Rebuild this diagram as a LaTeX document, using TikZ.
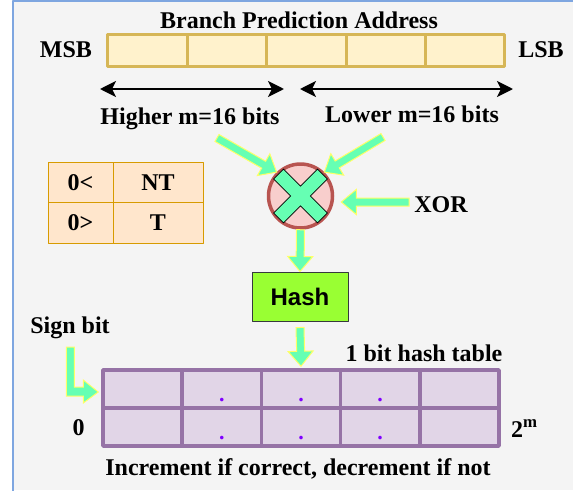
\documentclass[tikz,border=0pt]{standalone}
\usepackage{fontspec}
\setmainfont{Liberation Serif}
\setsansfont{Liberation Sans}
\usetikzlibrary{calc,arrows.meta}
\definecolor{bggray}{HTML}{F4F4F4}
\definecolor{frameblue}{HTML}{7EA6E0}
\definecolor{addrfill}{HTML}{FFF2CC}
\definecolor{addrline}{HTML}{D6B656}
\definecolor{signfill}{HTML}{FFE6CC}
\definecolor{signline}{HTML}{D79B00}
\definecolor{xorfill}{HTML}{F8CECC}
\definecolor{xorline}{HTML}{B85450}
\definecolor{fatgreen}{HTML}{66FFB3}
\definecolor{fatyellow}{HTML}{FFFF66}
\definecolor{hashfill}{HTML}{99FF33}
\definecolor{hashline}{HTML}{36393D}
\definecolor{tabfill}{HTML}{E1D5E7}
\definecolor{tabline}{HTML}{9673A6}
\definecolor{dotviolet}{HTML}{7F00FF}
\begin{document}
\begin{tikzpicture}[x=1pt,y=-1pt, line join=round,
    lbl/.style={font=\fontsize{24}{28}\selectfont\bfseries, inner sep=0pt},
    txt/.style={lbl, anchor=base},
    addrcell/.style={draw=addrline, fill=addrfill, line width=3pt, minimum width=79.4pt, minimum height=32pt, inner sep=0pt},
    signcell/.style={lbl, draw=signline, fill=signfill, line width=1pt, minimum height=40.5pt},
    tabcell/.style={draw=tabline, fill=tabfill, line width=3.5pt, minimum width=79.2pt, minimum height=38pt, inner sep=0pt},
    fatbody/.style={fill=fatgreen, draw=fatyellow, line width=1pt, line join=miter},
    fatarrow/.style={fatbody, to path={let \p1=(\tikztostart), \p2=(\tikztotarget), \n1={atan2(\y2-\y1,\x2-\x1)} in
        ($(\p1)+({\n1+90}:4pt)$) -- ($(\p2)+({\n1+180}:15pt)+({\n1+90}:4pt)$) -- ($(\p2)+({\n1+180}:15pt)+({\n1+90}:12.5pt)$)
        -- (\p2) -- ($(\p2)+({\n1+180}:15pt)+({\n1-90}:12.5pt)$) -- ($(\p2)+({\n1+180}:15pt)+({\n1-90}:4pt)$)
        -- ($(\p1)+({\n1-90}:4pt)$) -- cycle}},
    bitspan/.style={{Stealth[length=16pt,width=16pt,inset=4pt]}-{Stealth[length=16pt,width=16pt,inset=4pt]}, line width=2.5pt}]
  \useasboundingbox (0,0) rectangle (573,490);
  \fill[white] (0,0) rectangle (573,490);
  \fill[bggray] (12,0) rectangle (573,490);
  \draw[frameblue, line width=2pt, line cap=rect] (13,490) -- (13,1) -- (573,1);

  \node[txt] (title) at (299,28.5) {Branch Prediction Address};
  \foreach \i in {0,...,4} \node[addrcell] (a\i) at (147.5+79.4*\i,50) {};
  \node[txt] (msb) at (66,57) {MSB};
  \node[txt] (lsb) at (541,57) {LSB};
  \coordinate (hl) at (100,89); \coordinate (hr) at (284,89);
  \coordinate (ll) at (300,89); \coordinate (lr) at (513,89);
  \draw[bitspan] (hl) -- (hr);
  \draw[bitspan] (ll) -- (lr);
  \node[txt] (higher) at (190,124) {Higher m=16 bits};
  \node[txt] (lower) at (412,122) {Lower m=16 bits};

  \node[signcell, minimum width=65pt] (s11) at (80.5,182.5) {0<};
  \node[signcell, minimum width=90pt] (s12) at (158,182.5) {NT};
  \node[signcell, minimum width=65pt] (s21) at (80.5,223) {0>};
  \node[signcell, minimum width=90pt] (s22) at (158,223) {T};

  \node[circle, draw=xorline, fill=xorfill, line width=3.5pt, minimum size=64pt, inner sep=0pt] (xor) at (300.5,196) {};
  \draw[shift={(xor.center)}, rotate=45, fill=fatgreen, line width=0.8pt, line join=miter]
    (7,7) -- (31,7) -- (31,-7) -- (7,-7) -- (7,-31) -- (-7,-31) -- (-7,-7) -- (-31,-7) -- (-31,7) -- (-7,7) -- (-7,31) -- (7,31) -- cycle;
  \node[txt] (xorlbl) at (441,212.5) {XOR};
  \coordinate (htail) at (217,138);
  \coordinate (ltail) at (383,137);
  \coordinate (xortail) at (409,202);
  \coordinate (xortip) at ($(xor.east)+(7,6)$);
  \draw[fatarrow] (htail) to (xor.north west);
  \draw[fatarrow] (ltail) to (xor.north east);
  \draw[fatarrow] (xortail) to (xortip);

  \node[draw=hashline, fill=hashfill, line width=1pt, minimum width=96pt, minimum height=49pt, inner sep=0pt,
    font=\sffamily\bfseries\fontsize{24}{28}\selectfont] (hash) at (300,296.5) {Hash};
  \draw[fatarrow] (xor.south) to (hash.north);

  \foreach \r in {0,1} \foreach \c in {0,...,4} \node[tabcell] (t\r\c) at (142.6+79.2*\c,389+38*\r) {};
  \foreach \r in {0,1} \foreach \c in {1,2,3}
    \node[text=dotviolet, font=\fontsize{22}{22}\selectfont\bfseries, inner sep=0pt, anchor=base] at ($(t\r\c.south)+(0,-8)$) {.};
  \coordinate (hashout) at ($(hash.south)+(0,6)$);
  \coordinate (tabin) at ($(t02.north)+(0,-2)$);
  \draw[fatarrow] (hashout) to (tabin);

  \node[txt] (sign) at (70,333) {Sign bit};
  \coordinate (signtip) at ($(t00.west)+(-3,3)$);
  \draw[fatbody, shift={(signtip)}] (-32,-45) -- (-32,4) -- (-15,4) -- (-15,11) -- (0,0) -- (-15,-12) -- (-15,-5) -- (-24,-5) -- (-24,-45) -- cycle;
  \node[txt] (tabname) at (424,361.5) {1 bit hash table};
  \node[txt] (zero) at (78.6,435) {0};
  \node[txt, anchor=base west] (size) at (511,437) {2\textsuperscript{m}};
  \node[txt] (rule) at (298,475.5) {Increment if correct, decrement if not};
\end{tikzpicture}
\end{document}
